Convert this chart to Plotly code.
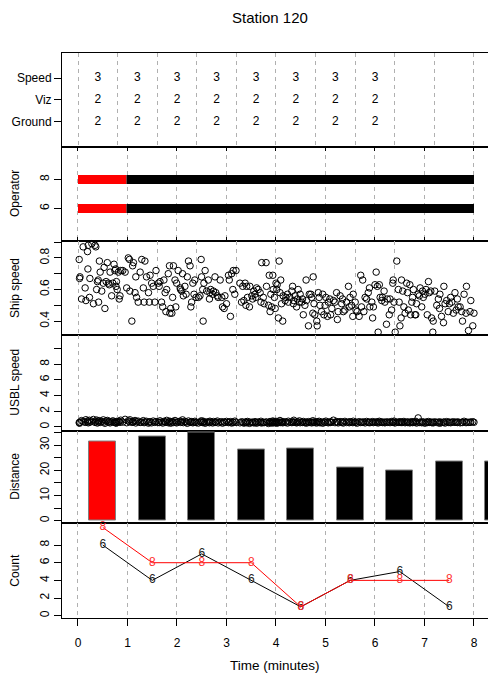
import plotly.graph_objects as go

# ---------------- data ----------------
title_text = "Station 120"
time_title = "Time (minutes)"

cond_labels = ["Ground", "Viz", "Speed"]
cond_levels = [1, 2, 3]
cond_x = [0.5, 1.5, 2.5, 3.5, 4.5, 5.5, 6.5, 7.5]
speed_vals = ["3", "3", "3", "3", "3", "3", "3", "3"]
viz_vals = ["2", "2", "2", "2", "2", "2", "2", "2"]
ground_vals = ["2", "2", "2", "2", "2", "2", "2", "2"]

op_levels = [8, 6]
op_seg_start = [0, 0.98]
op_seg_end = [0.98, 8]
op_seg_color = ["#FF0000", "#000000"]

ship_t = [
    0.03, 0.05, 0.04, 0.09, 0.13, 0.18, 0.20, 0.24, 0.26, 0.25, 0.29, 0.30, 0.35, 0.39, 0.43, 0.45, 0.47, 0.49, 0.51, 0.52,
    0.54, 0.56, 0.60, 0.64, 0.66, 0.68, 0.71, 0.74, 0.77, 0.79, 0.81, 0.85, 0.88, 0.91, 0.93, 0.96, 0.97, 0.99, 0.95,
    1.02, 1.04, 1.06, 1.08, 1.13, 1.19, 1.23, 1.27, 1.30, 1.31, 1.36, 1.38, 1.40, 1.44, 1.46, 1.48,
    1.52, 1.57, 1.61, 1.65, 1.67, 1.69, 1.73, 1.78, 1.80, 1.82, 1.86, 1.90, 1.94, 1.97,
    2.03, 2.05, 2.07, 2.11, 2.14, 2.17, 2.20, 2.22, 2.24, 2.28, 2.31, 2.32, 2.34, 2.37, 2.39, 2.41, 2.45, 2.47, 2.49,
    2.53, 2.58, 2.59, 2.62, 2.64, 2.66, 2.70, 2.73, 2.76, 2.79, 2.83, 2.85, 2.87, 2.90, 2.93, 2.95, 2.98,
    3.04, 3.08, 3.11, 3.12, 3.15, 3.16, 3.18, 3.21, 3.25, 3.29, 3.32, 3.33, 3.35, 3.40, 3.42, 3.46, 3.48,
    3.52, 3.54, 3.59, 3.63, 3.65, 3.69, 3.71, 3.75, 3.80, 3.82, 3.85, 3.88, 3.91, 3.92, 3.96, 3.99,
    4.09, 4.13, 4.16, 4.19, 4.22, 4.24, 4.26, 4.28, 4.33, 4.34, 4.39, 4.41, 4.44, 4.47, 4.49, 4.51, 4.55,
    4.60, 4.62, 4.64, 4.68, 4.70, 4.75, 4.76, 4.81, 4.83, 4.85, 4.87, 4.89, 4.92, 4.92, 4.92, 4.93, 4.96, 4.98, 5.00,
    5.02, 5.03, 5.06, 5.08, 5.10, 5.12, 5.14, 5.17, 5.18, 5.23, 5.25, 5.29, 5.31, 5.35, 5.40, 5.42, 5.44, 5.45, 5.48,
    5.52, 5.54, 5.56, 5.59, 5.61, 5.65, 5.67, 5.69, 5.73, 5.76, 5.77, 5.82, 5.84, 5.88, 5.90, 5.93, 5.94, 5.96, 5.98,
    6.03, 6.04, 6.07, 6.09, 6.11, 6.15, 6.18, 6.21, 6.24, 6.26, 6.30, 6.32, 6.36, 6.38, 6.41, 6.45, 6.49,
    6.53, 6.55, 6.57, 6.62, 6.66, 6.68, 6.70, 6.74, 6.78, 6.83, 6.85, 6.87, 6.91, 6.94, 6.95, 7.00,
    7.02, 7.05, 7.10, 7.14, 7.16, 7.19, 7.22, 7.25, 7.29, 7.33, 7.36, 7.37, 7.42, 7.44, 7.46, 7.50,
    7.53, 7.56, 7.58, 7.61, 7.63, 7.67, 7.69, 7.73, 7.75, 7.79, 7.81, 7.86, 7.88, 7.92, 7.95, 7.96, 7.98,
    8.01, 8.05, 8.09, 8.11, 8.13, 8.16, 8.17, 8.20, 8.23, 8.26, 8.30, 8.32, 8.34, 8.38, 8.40, 8.43, 8.45, 8.47,
    8.51, 8.53, 8.55, 8.59, 8.62, 8.64, 8.68, 8.70, 8.72, 8.76, 8.79, 8.82, 8.85, 8.87, 8.91, 8.93, 8.96, 8.97,
    9.01, 9.06, 9.10, 9.13, 9.14, 9.18, 9.23, 9.24, 9.27, 9.31, 9.35, 9.38, 9.41, 9.44, 9.48,
    9.52, 9.55, 9.58, 9.60, 9.65, 9.69, 9.71, 9.75, 9.80, 9.81, 9.86, 9.90, 9.92, 9.97, 10.00,
]
ship_v = [
    0.79, 0.68, 0.67, 0.54, 0.87, 0.61, 0.53, 0.84, 0.88, 0.73, 0.55, 0.67, 0.89, 0.51, 0.88, 0.87, 0.60, 0.65, 0.66, 0.52,
    0.78, 0.71, 0.59, 0.64, 0.74, 0.48, 0.65, 0.77, 0.64, 0.63, 0.71, 0.56, 0.64, 0.76, 0.72, 0.62, 0.65, 0.60, 0.73,
    0.71, 0.54, 0.56, 0.72, 0.72, 0.71, 0.61, 0.80, 0.79, 0.59, 0.40, 0.75, 0.77, 0.58, 0.68, 0.55,
    0.52, 0.71, 0.79, 0.61, 0.52, 0.78, 0.68, 0.58, 0.52, 0.69, 0.64, 0.62, 0.52, 0.72,
    0.64, 0.62, 0.65, 0.52, 0.49, 0.66, 0.58, 0.46, 0.60, 0.70, 0.75, 0.45, 0.48, 0.45, 0.55, 0.75, 0.66, 0.49, 0.64,
    0.72, 0.61, 0.60, 0.59, 0.70, 0.56, 0.62, 0.57, 0.68, 0.78, 0.75, 0.49, 0.52, 0.64, 0.57, 0.66, 0.55,
    0.55, 0.56, 0.79, 0.68, 0.60, 0.40, 0.64, 0.72, 0.59, 0.66, 0.54, 0.58, 0.60, 0.57, 0.59, 0.68, 0.58,
    0.56, 0.55, 0.66, 0.55, 0.49, 0.48, 0.56, 0.51, 0.69, 0.66, 0.43, 0.70, 0.60, 0.72, 0.57, 0.72,
    0.64, 0.52, 0.62, 0.53, 0.64, 0.50, 0.62, 0.55, 0.49, 0.62, 0.56, 0.54, 0.59, 0.57, 0.55, 0.61, 0.60,
    0.58, 0.52, 0.77, 0.55, 0.51, 0.77, 0.62, 0.50, 0.69, 0.46, 0.57, 0.49, 0.69, 0.29, 0.25, 0.60, 0.55, 0.48, 0.64,
    0.60, 0.63, 0.42, 0.78, 0.58, 0.66, 0.51, 0.40, 0.56, 0.53, 0.55, 0.57, 0.52, 0.55, 0.59, 0.62, 0.51, 0.53, 0.56,
    0.49, 0.54, 0.60, 0.52, 0.57, 0.52, 0.54, 0.44, 0.50, 0.66, 0.53, 0.37, 0.57, 0.57, 0.55, 0.45, 0.68, 0.51, 0.44,
    0.40, 0.37, 0.58, 0.55, 0.50, 0.46, 0.57, 0.44, 0.50, 0.55, 0.43, 0.52, 0.54, 0.44, 0.48, 0.53, 0.52,
    0.58, 0.41, 0.46, 0.56, 0.51, 0.54, 0.46, 0.47, 0.52, 0.62, 0.49, 0.55, 0.50, 0.43, 0.57, 0.52,
    0.47, 0.46, 0.43, 0.69, 0.49, 0.66, 0.46, 0.55, 0.54, 0.58, 0.61, 0.49, 0.52, 0.42, 0.49, 0.63,
    0.71, 0.62, 0.33, 0.63, 0.55, 0.53, 0.55, 0.59, 0.52, 0.38, 0.54, 0.44, 0.54, 0.47, 0.64, 0.66, 0.52,
    0.33, 0.78, 0.60, 0.52, 0.37, 0.42, 0.66, 0.59, 0.49, 0.45, 0.64, 0.58, 0.47, 0.63, 0.44, 0.52, 0.55, 0.60,
    0.44, 0.44, 0.51, 0.57, 0.56, 0.61, 0.49, 0.59, 0.55, 0.57, 0.60, 0.44, 0.65, 0.58, 0.59, 0.42, 0.33, 0.40,
    0.59, 0.50, 0.54, 0.48, 0.57, 0.43, 0.39, 0.62, 0.51, 0.53, 0.46, 0.51, 0.55, 0.52, 0.45,
    0.58, 0.47, 0.54, 0.49, 0.49, 0.46, 0.40, 0.57, 0.45, 0.62, 0.34, 0.46, 0.53, 0.37, 0.45,
]

usbl_v = [
    0.55, 0.62, 0.48, 0.81, 0.70, 0.59, 0.92, 0.66, 0.53, 0.77,
    0.85, 0.61, 0.72, 0.95, 0.58, 0.68, 0.88, 0.50, 0.74, 0.63,
    0.80, 0.57, 0.69, 0.90, 0.62, 0.47, 0.75, 0.83, 0.60, 0.71,
    0.52, 0.66, 0.78, 0.58, 0.64, 0.49, 0.70, 0.61, 0.55, 0.68,
    0.73, 0.59, 0.86, 0.62, 0.97, 0.54, 0.79, 0.66, 0.91, 0.58,
    0.70, 0.63, 0.82, 0.51, 0.68, 0.74, 0.57, 0.62, 0.80, 0.55,
    0.64, 0.72, 0.49, 0.60, 0.67, 0.53, 0.75, 0.58, 0.69, 0.61,
    0.56, 0.78, 0.62, 0.50, 0.71, 0.65, 0.59, 0.84, 0.54, 0.66,
    0.73, 0.48, 0.61, 0.69, 0.57, 0.82, 0.60, 0.52, 0.67, 0.74,
    0.58, 0.63, 0.90, 0.55, 0.70, 0.62, 0.47, 0.76, 0.59, 0.64,
    0.68, 0.53, 0.60, 0.72, 0.57, 0.50, 0.65, 0.61, 0.79, 0.56,
    0.62, 0.70, 0.48, 0.58, 0.66, 0.54, 0.73, 0.60, 0.51, 0.69,
    0.57, 0.64, 0.75, 0.52, 0.60, 0.67, 0.49, 0.62, 0.58, 0.71,
    0.55, 0.61, 0.68, 0.50, 0.63, 0.57, 0.74, 0.59, 0.53, 0.66,
    0.60, 0.49, 0.58, 0.65, 0.54, 0.70, 0.46, 0.62, 0.57, 0.61,
    0.52, 0.67, 0.59, 0.48, 0.63, 0.56, 0.72, 0.51, 0.60, 0.55,
    0.64, 0.58, 0.45, 0.61, 0.69, 0.53, 0.57, 0.76, 0.50, 0.62,
    0.59, 0.66, 0.54, 0.71, 0.58, 0.48, 0.63, 0.60, 0.82, 0.56,
    0.62, 0.53, 0.68, 0.57, 0.64, 0.50, 0.73, 0.59, 0.55, 0.67,
    0.60, 0.85, 0.58, 0.52, 0.66, 0.61, 0.77, 0.54, 0.63, 0.57,
    0.70, 0.55, 0.62, 0.49, 0.68, 0.58, 0.64, 0.52, 0.79, 0.60,
    0.56, 0.63, 0.51, 0.67, 0.59, 0.72, 0.54, 0.61, 0.48, 0.65,
    0.58, 0.74, 0.60, 0.53, 0.66, 0.57, 0.62, 0.86, 0.55, 0.69,
    0.61, 0.52, 0.68, 0.59, 0.64, 0.50, 0.71, 0.57, 0.63, 0.54,
    0.66, 0.60, 0.55, 0.73, 0.58, 0.62, 0.49, 0.67, 0.56, 0.61,
    0.59, 0.64, 0.52, 0.70, 0.57, 0.63, 0.54, 0.60, 0.68, 0.55,
    0.62, 0.57, 0.66, 0.51, 0.72, 0.59, 0.64, 0.56, 0.61, 0.53,
    0.65, 0.58, 0.63, 0.55, 0.69, 0.60, 0.57, 0.74, 0.52, 0.62,
    0.59, 0.60, 0.66, 0.56, 0.63, 0.58, 0.70, 0.54, 0.61, 0.57,
    0.64, 0.52, 0.60, 0.67, 0.55, 0.62, 0.58, 0.71, 0.50, 1.15,
    0.57, 0.61, 0.54, 0.66, 0.59, 0.48, 0.63, 0.56, 0.69, 0.58,
    0.62, 0.55, 0.60, 0.52, 0.65, 0.58, 0.61, 0.47, 0.64, 0.56,
    0.59, 0.63, 0.50, 0.68, 0.57, 0.62, 0.54, 0.60, 0.66, 0.58,
    0.61, 0.56, 0.64, 0.53, 0.60, 0.57, 0.72, 0.55, 0.62, 0.59,
    0.58, 0.63, 0.66, 0.60, 0.55, 0.64, 0.57, 0.61, 0.59, 0.62,
]

dist_x = [0.5, 1.5, 2.5, 3.5, 4.5, 5.5, 6.5, 7.5, 8.5]
dist_v = [31.6, 33.4, 35.1, 28.3, 28.7, 21.0, 20.0, 23.5, 23.5]
dist_colors = ["#FF0000"] + ["#000000"] * 8

count_x = [0.5, 1.5, 2.5, 3.5, 4.5, 5.5, 6.5, 7.5]
count_black = [8, 4, 7, 4, 1, 4, 5, 1]
count_red = [10, 6, 6, 6, 1, 4, 4, 4]

time_ticks = [0, 1, 2, 3, 4, 5, 6, 7, 8]

# ---------------- layout helpers ----------------
W, H = 488, 679
FONT = "Liberation Sans, Arial, sans-serif"
XDOM = [62 / W, 1.0]
bounds = [52.7, 147.0, 241.0, 335.0, 430.5, 523.0, 618.3]


def ydom(i):
    return [1 - bounds[i + 1] / H, 1 - bounds[i] / H]


GRID = dict(showgrid=True, gridcolor="#B0B0B0", gridwidth=1, griddash="4px,4px")
RANGE_A = [-0.404, 10.354]   # 0..10 scale (top, ship, usbl)
RANGE_B = [-0.323, 8.283]    # 0..8 scale (operator, distance, count)

fig = go.Figure()

# Panel 1: condition text
for lvl, vals in zip(cond_levels, [ground_vals, viz_vals, speed_vals]):
    fig.add_trace(go.Scatter(x=cond_x, y=[lvl] * len(cond_x), mode="text", text=vals,
                             textfont=dict(family=FONT, size=12, color="black"),
                             xaxis="x", yaxis="y", hoverinfo="skip"))

# Panel 2: operator segments
for lvl in op_levels:
    for s, e, c in zip(op_seg_start, op_seg_end, op_seg_color):
        fig.add_trace(go.Scatter(x=[s, e], y=[lvl, lvl], mode="lines",
                                 line=dict(color=c, width=9),
                                 xaxis="x2", yaxis="y2", hoverinfo="skip"))

# Panel 3: ship speed
n = min(len(ship_t), len(ship_v))
fig.add_trace(go.Scatter(x=ship_t[:n], y=ship_v[:n], mode="markers",
                         marker=dict(symbol="circle-open", size=6.5, color="black",
                                     line=dict(width=1, color="black")),
                         cliponaxis=False, xaxis="x3", yaxis="y3"))

# Panel 4: USBL speed
m = min(len(ship_t), len(usbl_v))
fig.add_trace(go.Scatter(x=ship_t[:m], y=usbl_v[:m], mode="markers",
                         marker=dict(symbol="circle-open", size=6.5, color="black",
                                     line=dict(width=1, color="black")),
                         cliponaxis=False, xaxis="x4", yaxis="y4"))

# Panel 5: distance bars
fig.add_trace(go.Bar(x=dist_x, y=dist_v, width=0.55,
                     marker=dict(color=dist_colors, line=dict(color="#808080", width=1)),
                     xaxis="x5", yaxis="y5"))

# Panel 6: counts
fig.add_trace(go.Scatter(x=count_x, y=count_black, mode="lines+text", text=["6"] * len(count_x),
                         textposition="middle center",
                         textfont=dict(family=FONT, size=12, color="#222222"),
                         line=dict(color="black", width=1),
                         cliponaxis=False, xaxis="x6", yaxis="y6"))
fig.add_trace(go.Scatter(x=count_x, y=count_red, mode="lines+text", text=["8"] * len(count_x),
                         textposition="middle center",
                         textfont=dict(family=FONT, size=12, color="#FF3030"),
                         line=dict(color="#FF0000", width=1),
                         cliponaxis=False, xaxis="x6", yaxis="y6"))

layout = dict(
    width=W, height=H, margin=dict(l=0, r=0, t=0, b=0),
    paper_bgcolor="white", plot_bgcolor="rgba(0,0,0,0)", showlegend=False,
    font=dict(family=FONT, size=12, color="black"),
    bargap=0,
)

xbase = dict(domain=XDOM, showline=True, linecolor="black", linewidth=1, mirror=True,
             zeroline=False, showticklabels=False, ticks="", fixedrange=True, **GRID)
ybase = dict(showline=True, linecolor="black", linewidth=1, mirror=False, zeroline=False,
             showgrid=False, ticks="outside", ticklen=7, tickcolor="black", tickwidth=1,
             tickfont=dict(family=FONT, size=12, color="black"), tickangle=-90, fixedrange=True)

# x axes
layout["xaxis"] = dict(xbase, anchor="y", range=RANGE_A, tickvals=list(range(0, 11)))
layout["xaxis2"] = dict(xbase, anchor="y2", range=RANGE_B, tickvals=time_ticks,
                        mirror="ticks", ticks="inside", ticklen=4, tickcolor="black")
layout["xaxis3"] = dict(xbase, anchor="y3", range=RANGE_A, tickvals=time_ticks)
layout["xaxis4"] = dict(xbase, anchor="y4", range=RANGE_A, tickvals=time_ticks)
layout["xaxis5"] = dict(xbase, anchor="y5", range=RANGE_B, tickvals=time_ticks)
layout["xaxis6"] = dict(xbase, anchor="y6", range=RANGE_B, tickvals=time_ticks,
                        ticktext=[str(t) for t in time_ticks], showticklabels=True,
                        ticks="outside", ticklen=7, tickcolor="black", ticklabelstandoff=6,
                        tickfont=dict(family=FONT, size=12, color="black"))

# y axes
layout["yaxis"] = dict(ybase, anchor="x", domain=ydom(0), range=[-0.16, 4.16],
                       tickvals=cond_levels, ticktext=cond_labels, tickangle=0)
layout["yaxis2"] = dict(ybase, anchor="x2", domain=ydom(1), range=[3.76, 10.24],
                        tickvals=[6, 8], ticktext=["6", "8"])
layout["yaxis3"] = dict(ybase, anchor="x3", domain=ydom(2), range=[0.312, 0.907],
                        tickvals=[0.4, 0.5, 0.6, 0.7, 0.8, 0.9],
                        ticktext=["0.4", "", "0.6", "", "0.8", ""])
layout["yaxis4"] = dict(ybase, anchor="x4", domain=ydom(3), range=[-0.45, 11.7],
                        tickvals=[0, 2, 4, 6, 8, 10], ticktext=["0", "2", "4", "6", "8", ""])
layout["yaxis5"] = dict(ybase, anchor="x5", domain=ydom(4), range=[-0.9, 35.8],
                        tickvals=[0, 5, 10, 15, 20, 25, 30, 35],
                        ticktext=["0", "", "10", "", "20", "", "30", ""])
layout["yaxis6"] = dict(ybase, anchor="x6", domain=ydom(5), range=[-0.3, 10.5],
                        tickvals=[0, 2, 4, 6, 8], ticktext=["0", "2", "4", "6", "8"])

ann = [
    dict(text=title_text, x=270 / W, y=1 - 17 / H, xref="paper", yref="paper",
         xanchor="center", yanchor="middle",
         showarrow=False, font=dict(family=FONT, size=15, color="black")),
    dict(text=time_title, x=275 / W, y=1 - 665 / H, xref="paper", yref="paper",
         xanchor="center", yanchor="middle",
         showarrow=False, font=dict(family=FONT, size=13.5, color="black")),
]
ytitles = ["Operator", "Ship speed", "USBL speed", "Distance", "Count"]
for i, t in enumerate(ytitles, start=1):
    yc = (bounds[i] + bounds[i + 1]) / 2
    ann.append(dict(text=t, x=15 / W, y=1 - yc / H, xref="paper", yref="paper",
                    xanchor="center", yanchor="middle",
                    showarrow=False, textangle=-90,
                    font=dict(family=FONT, size=12, color="black")))
layout["annotations"] = ann

fig.update_layout(**layout)
fig.write_html("out.html", config={"displayModeBar": False},
               post_script="document.body.style.margin='0px';document.body.style.overflow='hidden';")
